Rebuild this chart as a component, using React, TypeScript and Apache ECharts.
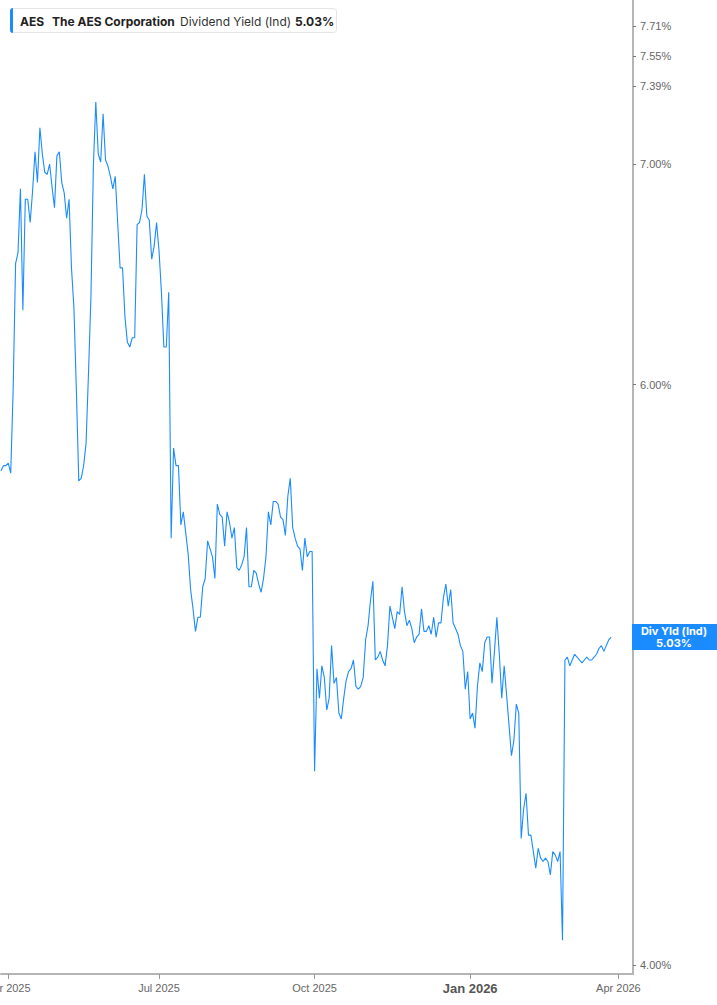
import React, { useEffect, useRef } from "react";
import * as echarts from "echarts";

// ---- categories: US trading days ----
const START_DATE = "2025-03-27";
const END_DATE = "2026-04-10";
const HOLIDAYS = [
  "2025-04-18", "2025-05-26", "2025-06-19", "2025-07-04", "2025-09-01",
  "2025-11-27", "2025-12-25", "2026-01-01", "2026-01-19", "2026-02-16", "2026-04-03",
];
const MONTHS = ["Jan", "Feb", "Mar", "Apr", "May", "Jun", "Jul", "Aug", "Sep", "Oct", "Nov", "Dec"];

// ---- series values (dividend yield, %) ----
const yieldQ2_2025 = [
  5.65, 5.67, 5.67, 5.68, 5.64, 5.98, 6.53, 6.58, 6.88, 6.32,
  6.83, 6.83, 6.72, 6.87, 7.06, 6.91, 7.18, 7.05, 6.96, 6.95,
  7.0, 6.89, 6.79, 7.04, 7.06, 6.91, 6.86, 6.74, 6.83, 6.51,
  6.33, 5.98, 5.61, 5.62, 5.67, 5.76, 6.05, 6.38, 6.99, 7.31,
  7.05, 7.01, 7.25, 7.02, 6.99, 6.94, 6.88, 6.94, 6.72, 6.51,
  6.51, 6.29, 6.18, 6.16, 6.2, 6.2, 6.71, 6.72, 6.78, 6.95,
  6.75, 6.73, 6.55, 6.61, 6.72,
];
const yieldQ3_2025 = [
  6.59, 6.4, 6.16, 6.16, 6.4,
  5.39, 5.74, 5.67, 5.67, 5.44, 5.49, 5.41, 5.33, 5.2, 5.13,
  5.05, 5.1, 5.1, 5.21, 5.24, 5.38, 5.35, 5.32, 5.24, 5.52,
  5.48, 5.47, 5.36, 5.49, 5.45, 5.39, 5.43, 5.28, 5.27, 5.29,
  5.32, 5.43, 5.21, 5.21, 5.27, 5.26, 5.22, 5.19, 5.24, 5.32,
  5.49, 5.44, 5.53, 5.53, 5.52, 5.47, 5.46, 5.4, 5.55, 5.62,
  5.43, 5.39, 5.36, 5.35, 5.27, 5.39, 5.32, 5.34, 5.34,
];
const yieldQ4_2025 = [
  4.58, 4.92, 4.82, 4.93, 4.89, 4.78, 4.82, 5.0, 4.87, 4.89, 4.77,
  4.75, 4.82, 4.88, 4.91, 4.92, 4.95, 4.86, 4.85, 4.86, 4.89,
  5.02, 5.07, 5.16, 5.23, 4.95, 4.96, 4.98, 4.95, 4.93, 5.0,
  5.14, 5.1, 5.06, 5.12, 5.11, 5.21, 5.12, 5.07, 5.09, 5.06,
  5.01, 5.03, 5.04, 5.13, 5.05, 5.05, 5.07, 5.04, 5.1, 5.03,
  5.08, 5.08, 5.17, 5.22, 5.14, 5.2, 5.08, 5.06, 5.04, 5.0,
  4.98, 4.85, 4.91,
];
const yieldQ1_2026 = [
  4.75, 4.77, 4.72, 4.86, 4.94, 4.91, 5.01,
  5.03, 5.03, 4.87, 4.98, 5.1, 4.97, 4.82, 4.93, 4.83, 4.73,
  4.63, 4.68, 4.8, 4.77, 4.37, 4.46, 4.51, 4.38, 4.38, 4.33,
  4.28, 4.34, 4.31, 4.3, 4.31, 4.3, 4.26, 4.33, 4.32, 4.3,
  4.33, 4.07, 4.95, 4.96, 4.93, 4.95, 4.97, 4.96, 4.95, 4.94,
  4.95, 4.96, 4.95, 4.95, 4.96, 4.97, 4.99, 5.0, 4.98, 5.0,
  5.02, 5.03,
];

// ---- axis ticks ----
const Y_TICKS = [4.0, 6.0, 7.0, 7.39, 7.55, 7.71];
const Y_MIN = 3.975;
const Y_MAX = 7.85;

const TICKER = "AES";
const COMPANY = "The AES Corporation";
const METRIC = "Dividend Yield (Ind)";
const SHORT_METRIC = "Div Yld (Ind)";

const BLUE = "#1a8cff";
const FONT = "Inter, 'Liberation Sans', Arial, sans-serif";
const AXIS_FONT = "'Liberation Sans', Arial, sans-serif";

function tradingDays(start: string, end: string, holidays: string[]): string[] {
  const out: string[] = [];
  const d = new Date(start + "T00:00:00Z");
  const e = new Date(end + "T00:00:00Z");
  while (d <= e) {
    const wd = d.getUTCDay();
    const s = d.toISOString().slice(0, 10);
    if (wd !== 0 && wd !== 6 && holidays.indexOf(s) < 0) out.push(s);
    d.setUTCDate(d.getUTCDate() + 1);
  }
  return out;
}

export default function App() {
  const ref = useRef<HTMLDivElement>(null);

  useEffect(() => {
    if (!ref.current) return;
    const chart = echarts.init(ref.current, undefined, { renderer: "svg" });
    const dates = tradingDays(START_DATE, END_DATE, HOLIDAYS);
    const values = [...yieldQ2_2025, ...yieldQ3_2025, ...yieldQ4_2025, ...yieldQ1_2026];
    const last = values[values.length - 1];

    const isQuarterStart = (i: number) => {
      if (i <= 0) return false;
      const m = +dates[i].slice(5, 7);
      const pm = +dates[i - 1].slice(5, 7);
      return m !== pm && (m === 1 || m === 4 || m === 7 || m === 10);
    };

    chart.setOption({
      animation: false,
      grid: { left: 1, right: 84, top: 0, bottom: 31, containLabel: false, outerBoundsMode: "none" },
      xAxis: {
        type: "category",
        data: dates,
        boundaryGap: false,
        axisLine: { show: true, lineStyle: { color: "#b5b5b5", width: 2 } },
        axisTick: {
          show: true,
          interval: (i: number) => isQuarterStart(i),
          length: 5,
          lineStyle: { color: "#999", width: 1 },
        },
        axisLabel: {
          interval: (i: number) => isQuarterStart(i),
          margin: 8,
          color: "#666",
          fontSize: 11,
          fontFamily: AXIS_FONT,
          hideOverlap: false,
          formatter: (v: string) => {
            const m = +v.slice(5, 7);
            const txt = MONTHS[m - 1] + " " + v.slice(0, 4);
            return m === 1 ? "{yr|" + txt + "}" : txt;
          },
          rich: {
            yr: { fontSize: 13, fontWeight: "bold", color: "#555", fontFamily: AXIS_FONT },
          },
        },
        splitLine: { show: false },
      },
      yAxis: {
        type: "value",
        position: "right",
        min: Math.log10(Y_MIN),
        max: Math.log10(Y_MAX),
        axisLine: { show: true, lineStyle: { color: "#b5b5b5", width: 2 } },
        axisTick: {
          show: true,
          length: 3,
          customValues: Y_TICKS.map((t) => Math.log10(t)),
          lineStyle: { color: "#777" },
        },
        axisLabel: {
          customValues: Y_TICKS.map((t) => Math.log10(t)),
          margin: 7,
          color: "#666",
          fontSize: 11,
          fontFamily: AXIS_FONT,
          formatter: (v: number) => Math.pow(10, v).toFixed(2) + "%",
        },
        splitLine: { show: false },
      },
      series: [
        {
          type: "line",
          data: values.map((v) => Math.log10(v)),
          symbol: "none",
          lineStyle: { color: BLUE, width: 1.1 },
          itemStyle: { color: BLUE },
        },
      ],
    });

    const yPix = chart.convertToPixel({ yAxisIndex: 0 }, Math.log10(last)) as number;

    chart.setOption({
      graphic: [
        {
          type: "rect",
          shape: { x: 10.5, y: 8.5, width: 326, height: 24, r: 3 },
          style: { fill: "#fff", stroke: "#e4e4e4", lineWidth: 1 },
          z: 10,
        },
        {
          type: "rect",
          shape: { x: 10, y: 8, width: 3, height: 25, r: [3, 0, 0, 3] },
          style: { fill: BLUE },
          z: 11,
        },
        {
          type: "text", x: 20, y: 21, z: 11,
          style: { text: TICKER, fill: "#222", fontSize: 12, fontWeight: "bold", fontFamily: FONT, verticalAlign: "middle" },
        },
        {
          type: "text", x: 52, y: 21, z: 11,
          style: { text: COMPANY, fill: "#222", fontSize: 12, fontWeight: "bold", fontFamily: FONT, verticalAlign: "middle" },
        },
        {
          type: "text", x: 180, y: 21, z: 11,
          style: { text: METRIC, fill: "#333", fontSize: 12, fontFamily: FONT, verticalAlign: "middle" },
        },
        {
          type: "text", x: 295, y: 21, z: 11,
          style: { text: last.toFixed(2) + "%", fill: "#222", fontSize: 12, fontWeight: "bold", fontFamily: FONT, verticalAlign: "middle" },
        },
        {
          type: "rect",
          shape: { x: 632, y: yPix - 13, width: 85, height: 26 },
          style: { fill: BLUE },
          z: 10,
        },
        {
          type: "text", x: 674, y: yPix - 6, z: 11,
          style: { text: SHORT_METRIC, fill: "#fff", fontSize: 11, fontWeight: "bold", fontFamily: FONT, align: "center", verticalAlign: "middle" },
        },
        {
          type: "text", x: 674, y: yPix + 6, z: 11,
          style: { text: last.toFixed(2) + "%", fill: "#fff", fontSize: 11, fontWeight: "bold", fontFamily: FONT, align: "center", verticalAlign: "middle" },
        },
      ],
    });

    return () => chart.dispose();
  }, []);

  return (
    <div
      ref={ref}
      style={{ position: "absolute", left: 0, top: 0, width: 717, height: 1005, background: "#fff" }}
    />
  );
}
